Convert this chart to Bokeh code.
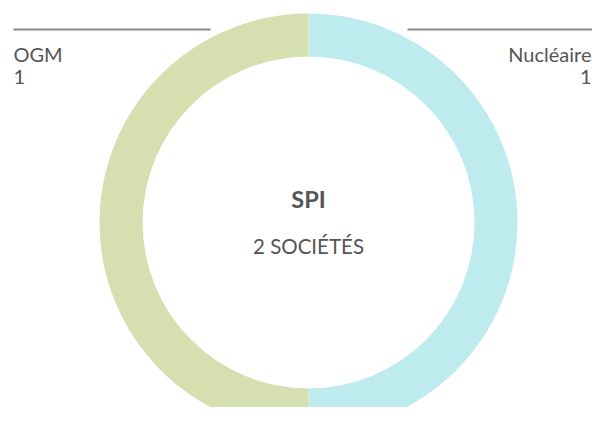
import math
from bokeh.plotting import figure
from bokeh.models import Range1d
from bokeh.core.properties import value
from bokeh.embed import file_html
from bokeh.resources import INLINE

categories = ["Nucléaire", "OGM"]
counts = [1, 1]
colors = ["#bdebee", "#d6dfb0"]
center_title = "SPI"
center_sub = "2 SOCIÉTÉS"

W, H = 592, 407
REF_H = 423
p = figure(width=W, height=H, output_backend="svg", toolbar_location=None,
           x_range=Range1d(0, W), y_range=Range1d(REF_H - H, REF_H),
           min_border=0, outline_line_color=None)
p.axis.visible = False
p.grid.visible = False
p.background_fill_color = "white"
p.border_fill_color = "white"

def Y(sy):
    return REF_H - sy

cx, cy = 308, Y(222)
r_out, r_in = 209, 166

total = sum(counts)
starts, ends = [], []
cum = 0
for v in counts:
    starts.append(math.pi / 2 - 2 * math.pi * cum / total)
    ends.append(math.pi / 2 - 2 * math.pi * (cum + v) / total)
    cum += v

p.annular_wedge(x=[cx] * len(counts), y=[cy] * len(counts), inner_radius=r_in, outer_radius=r_out,
                start_angle=starts, end_angle=ends, direction="clock",
                fill_color=colors, line_color=None)

font = value("Lato")
col = "#555555"
dy = 8  # baseline correction

# leader lines
p.segment(x0=[13, 407], y0=[Y(29), Y(29)], x1=[210, 603], y1=[Y(29), Y(29)],
          line_color="#8a8a8a", line_width=2)

lab = {c: n for c, n in zip(categories, counts)}
p.text(x=[13, 13], y=[Y(61.5 - dy), Y(84 - dy)], text=["OGM", str(lab["OGM"])],
       text_font=font, text_font_size="20px", text_color=col,
       text_align="left", text_baseline="alphabetic")
p.text(x=[591, 591], y=[Y(61.5 - dy), Y(84 - dy)], text=["Nucléaire", str(lab["Nucléaire"])],
       text_font=font, text_font_size="20px", text_color=col,
       text_align="right", text_baseline="alphabetic")

p.text(x=[cx], y=[Y(206.5 - dy)], text=[center_title], text_font=font, text_font_size="23.5px",
       text_font_style="bold", text_color=col, text_align="center", text_baseline="alphabetic")
p.text(x=[cx], y=[Y(253.3 - dy)], text=[center_sub], text_font=font, text_font_size="20.5px",
       text_color=col, text_align="center", text_baseline="alphabetic")

open("out.html", "w").write(file_html(p, INLINE))
